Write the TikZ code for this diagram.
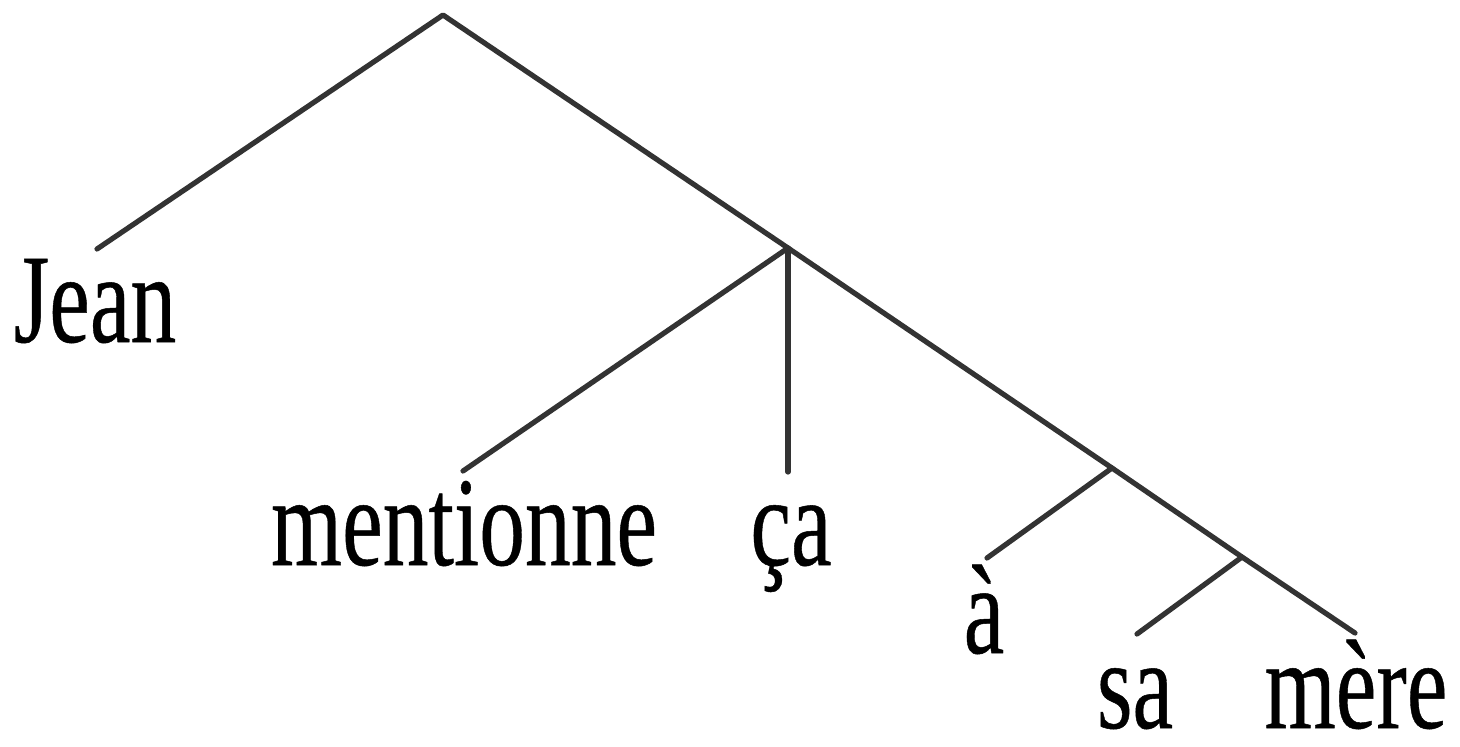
\documentclass[tikz,border=0pt]{standalone}
\usepackage{graphicx}
\usepackage{fontspec}
\setmainfont{Liberation Serif}
\newfontfamily\wordfont{Liberation Serif}[FakeBold=0.4]
% condensed word shape used for the leaves of the tree (no depth below the baseline)
\newcommand\narrowword[1]{\raisebox{0pt}[\height][0pt]{\scalebox{0.72}[1]{#1}}}
\begin{document}
\begin{tikzpicture}[x=0.5pt,y=-0.5pt,
  branch/.style={draw=black!80, line width=2.6pt, line cap=round, line join=round},
  word/.style={inner sep=0pt, anchor=base, font=\wordfont\fontsize{63.5}{70}\selectfont}]
\useasboundingbox (0,0) rectangle (1460,746);

% branching points
\coordinate (root) at (443,15);
\coordinate (vp)   at (788,248);
\coordinate (pp)   at (1112,468);
\coordinate (np)   at (1242,557);

% free ends of the branches above the words
\coordinate (jeanEnd) at (97,249);
\coordinate (mentEnd) at (463,471);
\coordinate (caEnd)   at (788,472);
\coordinate (aEnd)    at (987,558);
\coordinate (saEnd)   at (1137,634);
\coordinate (mereEnd) at (1355,633);

% leaves
\node[word] (jean) at (95,342)  {\narrowword{Jean}};
\node[word] (ment) at (464,565) {\narrowword{mentionne}};
\node[word] (ca)   at (791,565) {\narrowword{ça}};
\node[word] (a)    at (984,653) {\narrowword{à}};
\node[word] (sa)   at (1135,728) {\narrowword{sa}};
\node[word] (mere) at (1356,728) {\narrowword{mère}};

% branches
\draw[branch] (jeanEnd) -- (root) -- (vp) -- (pp) -- (np) -- (mereEnd);
\draw[branch] (vp) -- (mentEnd);
\draw[branch] (vp) -- (caEnd);
\draw[branch] (pp) -- (aEnd);
\draw[branch] (np) -- (saEnd);
\end{tikzpicture}
\end{document}
